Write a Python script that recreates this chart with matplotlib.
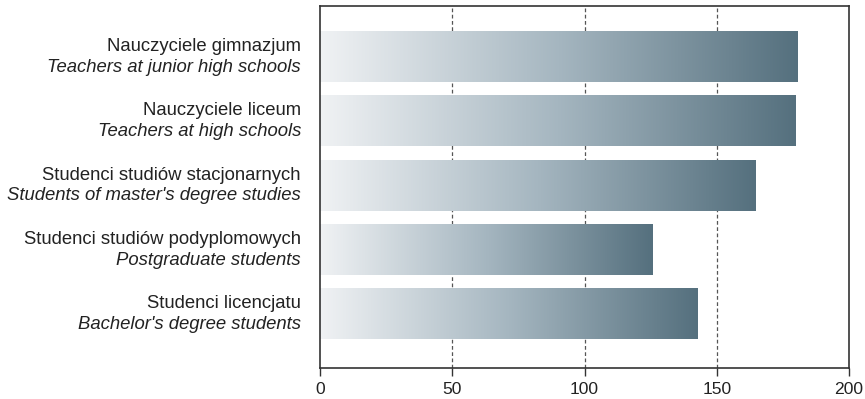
import numpy as np
import matplotlib
matplotlib.use("Agg")
import matplotlib.pyplot as plt
from matplotlib.colors import LinearSegmentedColormap
from matplotlib.transforms import blended_transform_factory

# dane
labels_pl = [
    "Nauczyciele gimnazjum",
    "Nauczyciele liceum",
    "Studenci studiów stacjonarnych",
    "Studenci studiów podyplomowych",
    "Studenci licencjatu",
]
labels_en = [
    "Teachers at junior high schools",
    "Teachers at high schools",
    "Students of master's degree studies",
    "Postgraduate students",
    "Bachelor's degree students",
]
values = [180.5, 179.7, 164.5, 125.7, 142.9]
x_ticks = [0, 50, 100, 150, 200]

plt.rcParams['font.family'] = ['Liberation Sans', 'DejaVu Sans']
plt.rcParams['font.size'] = 13.3

fig = plt.figure(figsize=(8.65, 3.99), dpi=100)
ax = fig.add_axes([0.370, 0.0777, 0.6115, 0.907])

# gradient od jasnego do ciemnego na kazdym slupku
cmap = LinearSegmentedColormap.from_list("bar", ["#f0f2f4", "#a5b6c0", "#55707e"])
grad = np.linspace(0, 1, 256).reshape(1, -1)
h = 0.78
for i, v in enumerate(values):
    ax.imshow(grad, cmap=cmap, aspect="auto", extent=[0, v, i + h / 2, i - h / 2],
              interpolation="bilinear", zorder=2)

for xv in x_ticks[1:-1]:
    ax.axvline(xv, color="#555555", lw=0.9, ls=(0, (3, 2)), zorder=1)

ax.set_xlim(0, 200)
ax.set_ylim(4.84, -0.79)
ax.set_xticks(x_ticks)
ax.set_yticks([])
ax.tick_params(axis="x", direction="out", length=6, width=1, color="#333333",
               labelcolor="#222222", labelsize=12.6, pad=4)
for s in ax.spines.values():
    s.set_color("#333333")
    s.set_linewidth(1.2)

trans = blended_transform_factory(fig.transFigure, ax.transData)
for i in range(len(values)):
    ax.annotate(labels_pl[i], xy=(301 / 865, i), xycoords=trans, xytext=(0, 7.4),
                textcoords="offset points", ha="right", va="center", color="#222222")
    ax.annotate(labels_en[i], xy=(301 / 865, i), xycoords=trans, xytext=(0, -7.4),
                textcoords="offset points", ha="right", va="center", style="italic",
                color="#222222")

fig.savefig("out.png", dpi=100)
